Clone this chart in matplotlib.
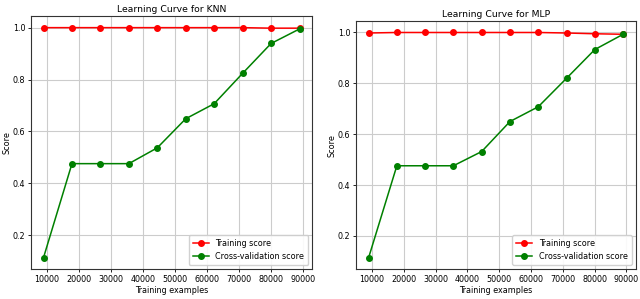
import matplotlib
matplotlib.use("Agg")
import matplotlib.pyplot as plt

train_sizes = [8900, 17800, 26700, 35600, 44500, 53400, 62300, 71200, 80100, 89000]
knn_train = [1.0, 1.0, 1.0, 1.0, 1.0, 1.0, 1.0, 1.0, 0.998, 0.998]
knn_cv = [0.114, 0.476, 0.476, 0.476, 0.537, 0.649, 0.707, 0.824, 0.939, 0.995]
mlp_train = [0.998, 1.0, 1.0, 1.0, 1.0, 1.0, 1.0, 0.998, 0.995, 0.993]
mlp_cv = [0.114, 0.476, 0.476, 0.476, 0.532, 0.650, 0.708, 0.820, 0.933, 0.993]
titles = ["Learning Curve for KNN", "Learning Curve for MLP"]
xticks = [10000, 20000, 30000, 40000, 50000, 60000, 70000, 80000, 90000]
yticks = [0.2, 0.4, 0.6, 0.8, 1.0]

fig = plt.figure(figsize=(6.4, 2.99), dpi=100)
positions = [[0.048, 0.10, 0.44, 0.846], [0.556, 0.10, 0.4375, 0.829]]
data = [(knn_train, knn_cv), (mlp_train, mlp_cv)]

for pos, title, (tr, cv) in zip(positions, titles, data):
    ax = fig.add_axes(pos)
    ax.grid(True, color="#cccccc", linewidth=0.8)
    ax.set_axisbelow(True)
    ax.plot(train_sizes, tr, "o-", color="red", markersize=4, linewidth=1.1, label="Training score")
    ax.plot(train_sizes, cv, "o-", color="green", markersize=4, linewidth=1.1, label="Cross-validation score")
    ax.set_title(title, fontsize=6.7, pad=3)
    ax.set_xlabel("Training examples", fontsize=5.8, labelpad=2)
    ax.set_ylabel("Score", fontsize=5.8, labelpad=0.5)
    ax.set_xticks(xticks)
    ax.set_yticks(yticks)
    ax.tick_params(labelsize=5.8, length=2.5, pad=1.5, width=0.6)
    for s in ax.spines.values():
        s.set_linewidth(0.8)
        s.set_color("#333333")
    ax.legend(loc="lower right", fontsize=5.8, handlelength=2.0, borderpad=0.5, labelspacing=0.5, framealpha=0.9)

fig.savefig("out.png", dpi=100)
